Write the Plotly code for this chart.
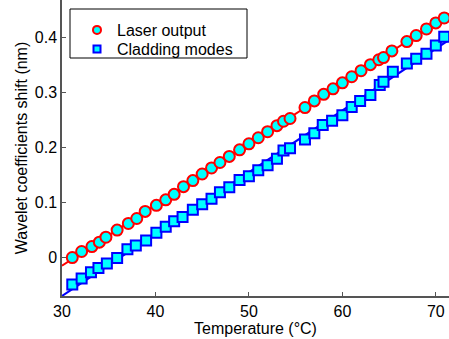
import plotly.graph_objects as go

# Temperature (°C) of each measurement
laser_x = [31.1, 32.1, 33.2, 34.0, 34.7, 35.9, 37.1, 38.0, 38.9, 40.1, 41.1, 42.0, 43.0, 44.0,
           45.0, 46.0, 46.9, 47.9, 49.0, 50.0, 51.0, 52.0, 53.0, 53.7, 54.4, 56.0, 57.0, 58.0,
           59.0, 60.0, 61.0, 62.0, 63.0, 63.9, 64.4, 65.3, 66.9, 67.9, 69.0, 70.0, 70.9]
laser_y = [0.000, 0.011, 0.020, 0.028, 0.037, 0.050, 0.062, 0.071, 0.084, 0.095, 0.105, 0.115,
           0.129, 0.140, 0.152, 0.163, 0.173, 0.184, 0.196, 0.207, 0.218, 0.229, 0.240, 0.248,
           0.253, 0.273, 0.285, 0.297, 0.307, 0.318, 0.329, 0.340, 0.351, 0.360, 0.364, 0.376,
           0.393, 0.404, 0.416, 0.427, 0.436]

clad_x = [31.1, 32.1, 33.1, 33.9, 34.8, 35.9, 37.0, 37.9, 39.0, 40.1, 41.1, 42.0, 42.9, 44.0,
          45.0, 46.0, 46.9, 47.9, 49.0, 50.0, 51.0, 52.0, 53.0, 53.7, 54.4, 56.0, 57.0, 57.9,
          58.9, 60.0, 61.0, 61.9, 63.0, 64.0, 64.4, 65.4, 66.9, 67.9, 69.0, 70.0, 70.9]
clad_y = [-0.049, -0.038, -0.027, -0.019, -0.011, -0.001, 0.015, 0.022, 0.031, 0.045, 0.056,
          0.066, 0.074, 0.087, 0.097, 0.107, 0.119, 0.128, 0.141, 0.148, 0.159, 0.168, 0.180,
          0.195, 0.199, 0.215, 0.226, 0.241, 0.249, 0.259, 0.274, 0.285, 0.296, 0.314, 0.320,
          0.338, 0.353, 0.362, 0.371, 0.386, 0.402]

# Linear fits (end points)
fit_x = [30.0, 71.41]
laser_fit_y = [-0.015, 0.443]
clad_fit_y = [-0.070, 0.396]

x_ticks = [30, 40, 50, 60, 70]
y_ticks = [0, 0.1, 0.2, 0.3, 0.4]
y_tick_text = ["0", "0.1", "0.2", "0.3", "0.4"]

FONT = "Liberation Sans, Arial, sans-serif"
CYAN = "#00FFFF"
RED = "#FF0000"
BLUE = "#0000FF"
AX = "#555555"

fig = go.Figure()
fig.add_trace(go.Scatter(x=fit_x, y=laser_fit_y, mode="lines", line=dict(color=RED, width=2),
                         showlegend=False, hoverinfo="skip"))
fig.add_trace(go.Scatter(x=fit_x, y=clad_fit_y, mode="lines", line=dict(color=BLUE, width=2),
                         showlegend=False, hoverinfo="skip"))
fig.add_trace(go.Scatter(x=laser_x, y=laser_y, mode="markers", showlegend=False,
                         marker=dict(symbol="circle", size=11, color=CYAN,
                                     line=dict(color=RED, width=2))))
fig.add_trace(go.Scatter(x=clad_x, y=clad_y, mode="markers", showlegend=False,
                         marker=dict(symbol="square", size=10, color=CYAN,
                                     line=dict(color=BLUE, width=2))))
# legend entries
fig.add_trace(go.Scatter(x=[None], y=[None], mode="markers", name="Laser output",
                         legend="legend",
                         marker=dict(symbol="circle", size=8, color=CYAN,
                                     line=dict(color=RED, width=2))))
fig.add_trace(go.Scatter(x=[None], y=[None], mode="markers", name="Cladding modes",
                         legend="legend2",
                         marker=dict(symbol="square", size=7, color=CYAN,
                                     line=dict(color=BLUE, width=2))))

L, B = 62, 43
W, H = 449, 339
PW, PH = W - L, H - B

def px_x(p):
    return (p - L) / PW

def px_y(p):
    return 1 - p / PH

fig.add_shape(type="rect", xref="paper", yref="paper",
              x0=px_x(70), x1=px_x(247), y0=px_y(58), y1=px_y(9),
              line=dict(color="black", width=1), fillcolor="white", layer="above")

leg_common = dict(xanchor="left", yanchor="top", bgcolor="rgba(0,0,0,0)", borderwidth=0,
                  font=dict(family=FONT, size=16, color="black"), itemsizing="trace")

fig.update_layout(
    width=W, height=H,
    margin=dict(l=L, r=0, t=0, b=B, pad=0),
    paper_bgcolor="white", plot_bgcolor="white",
    font=dict(family=FONT, size=16, color="black"),
    showlegend=True,
    legend=dict(x=px_x(77), y=px_y(13), **leg_common),
    legend2=dict(x=px_x(77), y=px_y(32), **leg_common),
    xaxis=dict(range=[30, 71.41], tickvals=x_ticks, ticks="inside", ticklen=4,
               tickcolor=AX, showline=True, linecolor=AX, linewidth=1.5,
               showgrid=False, zeroline=False,
               tickfont=dict(family=FONT, size=16, color="black"),
               title=dict(text="Temperature (°C)", standoff=4,
                          font=dict(family=FONT, size=16, color="black"))),
    yaxis=dict(range=[-0.07, 0.4687], tickvals=y_ticks, ticktext=y_tick_text,
               ticks="inside", ticklen=4, tickcolor=AX, showline=True, linecolor=AX,
               linewidth=1.5, showgrid=False, zeroline=False,
               tickfont=dict(family=FONT, size=16, color="black"),
               title=dict(text="Wavelet coefficients shift (nm)", standoff=3,
                          font=dict(family=FONT, size=16, color="black"))),
)

fig.write_html("out.html")
